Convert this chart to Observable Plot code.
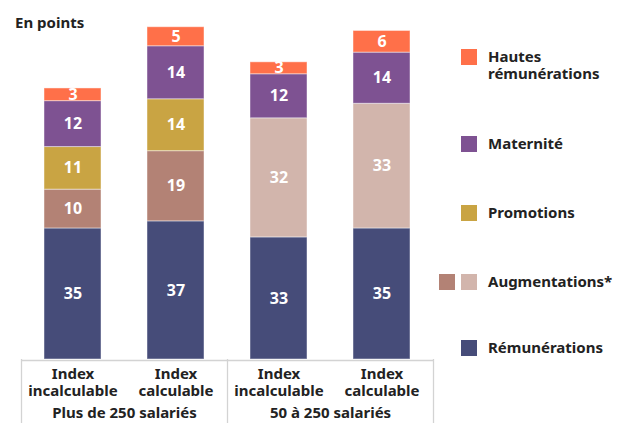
<!DOCTYPE html>
<html>
<head>
<meta charset="utf-8">
<script src="https://cdn.jsdelivr.net/npm/d3@7"></script>
<script src="https://cdn.jsdelivr.net/npm/@observablehq/plot@0.6"></script>
<style>
  html, body { margin: 0; padding: 0; background: #fff; }
  #wrap { position: relative; width: 627px; height: 423px; overflow: hidden; font-family: "Noto Sans", sans-serif; color: #222; }
  #wrap svg { position: absolute; left: 0; top: 0; }
  .unit { position: absolute; left: 15px; top: 13px; font-size: 15px; font-weight: 700; line-height: 18px; }
  .leg { position: absolute; font-size: 15px; font-weight: 700; line-height: 17px; }
  .sw { position: absolute; width: 16px; height: 16px; }
</style>
</head>
<body>
<div id="wrap"></div>
<script>
const groups = ["Plus de 250 salariés", "50 à 250 salariés"];
const indexTypes = ["Index incalculable", "Index calculable"];
const barGroups = [groups[0], groups[0], groups[1], groups[1]];
const barIndex = [indexTypes[0], indexTypes[1], indexTypes[0], indexTypes[1]];

// values per bar, bottom to top
const remunerations = [35.1, 37.0, 32.7, 35.1];
const augmentations = [10.4, 18.8, 31.9, 33.4];
const promotions = [11.4, 13.9, 0, 0];
const maternite = [12.3, 14.2, 11.8, 13.7];
const hautesRemunerations = [3.4, 5.1, 3.2, 5.8];

const seriesNames = ["Rémunérations", "Augmentations", "Promotions", "Maternité", "Hautes rémunérations"];
const seriesValues = [remunerations, augmentations, promotions, maternite, hautesRemunerations];

const colorKeys = ["Rémunérations", "Augmentations (plus de 250)", "Augmentations (50 à 250)", "Promotions", "Maternité", "Hautes rémunérations"];
const colorRange = ["#464C79", "#B38275", "#D2B5AC", "#C9A443", "#7E5292", "#FF7049"];

const rows = [];
seriesNames.forEach((s, k) => {
  seriesValues[k].forEach((v, i) => {
    if (v > 0) {
      const key = s === "Augmentations"
        ? (barGroups[i] === groups[0] ? colorKeys[1] : colorKeys[2])
        : s;
      rows.push({group: barGroups[i], index: barIndex[i], series: s, colorKey: key, value: v, label: String(Math.round(v))});
    }
  });
});

const leftDividers = groups.map(g => ({group: g, index: indexTypes[0]}));
const rightDividers = [{group: groups[1], index: indexTypes[1]}];

const plot = Plot.plot({
  width: 627,
  height: 423,
  marginLeft: 21,
  marginRight: 194,
  marginTop: 23,
  marginBottom: 64,
  style: {fontFamily: "Noto Sans, sans-serif", background: "transparent"},
  fx: {domain: groups, padding: 0, axis: null, label: null},
  x: {domain: indexTypes, paddingInner: 0.447, paddingOuter: 0.2235, axis: null},
  y: {domain: [0, 90], axis: null},
  color: {domain: colorKeys, range: colorRange},
  marks: [
    Plot.barY(rows, Plot.stackY({fx: "group", x: "index", y: "value", z: "series", fill: "colorKey", stroke: "white", strokeOpacity: 0.45, strokeWidth: 1})),
    Plot.text(rows, Plot.stackY({fx: "group", x: "index", y: "value", z: "series", text: "label", fill: "white", fontSize: 16, fontWeight: 700})),
    Plot.ruleY([0], {stroke: "#d3d3d3", strokeWidth: 1.3, dy: 1}),
    Plot.ruleX(leftDividers, {fx: "group", x: "index", y1: 0, y2: -18, dx: -51.5, stroke: "#d3d3d3", strokeWidth: 1.3}),
    Plot.ruleX(rightDividers, {fx: "group", x: "index", y1: 0, y2: -18, dx: 51.5, stroke: "#d3d3d3", strokeWidth: 1.3}),
    Plot.axisX({tickSize: 0, tickPadding: 8, tickFormat: d => d.replace(" ", "\n"), fontSize: 15, fontWeight: 700, fill: "#222", lineHeight: 1.1, label: null}),
    Plot.axisFx({anchor: "bottom", tickSize: 0, tickPadding: 48, fontSize: 15, fontWeight: 700, fill: "#222", label: null})
  ]
});

const wrap = document.getElementById("wrap");
wrap.appendChild(plot);

const unit = document.createElement("div");
unit.className = "unit";
unit.textContent = "En points";
wrap.appendChild(unit);

// legend
const legendItems = [
  {label: "Hautes<br>rémunérations", colors: [colorRange[5]], cy: 57},
  {label: "Maternité", colors: [colorRange[4]], cy: 144},
  {label: "Promotions", colors: [colorRange[3]], cy: 213},
  {label: "Augmentations*", colors: [colorRange[1], colorRange[2]], cy: 282},
  {label: "Rémunérations", colors: [colorRange[0]], cy: 348}
];
legendItems.forEach(item => {
  item.colors.slice().reverse().forEach((c, j) => {
    const sw = document.createElement("div");
    sw.className = "sw";
    sw.style.background = c;
    sw.style.left = (461 - j * 22) + "px";
    sw.style.top = (item.cy - 8) + "px";
    wrap.appendChild(sw);
  });
  const t = document.createElement("div");
  t.className = "leg";
  t.innerHTML = item.label;
  t.style.left = "488px";
  t.style.top = (item.cy - 9) + "px";
  wrap.appendChild(t);
});
</script>
</body>
</html>
